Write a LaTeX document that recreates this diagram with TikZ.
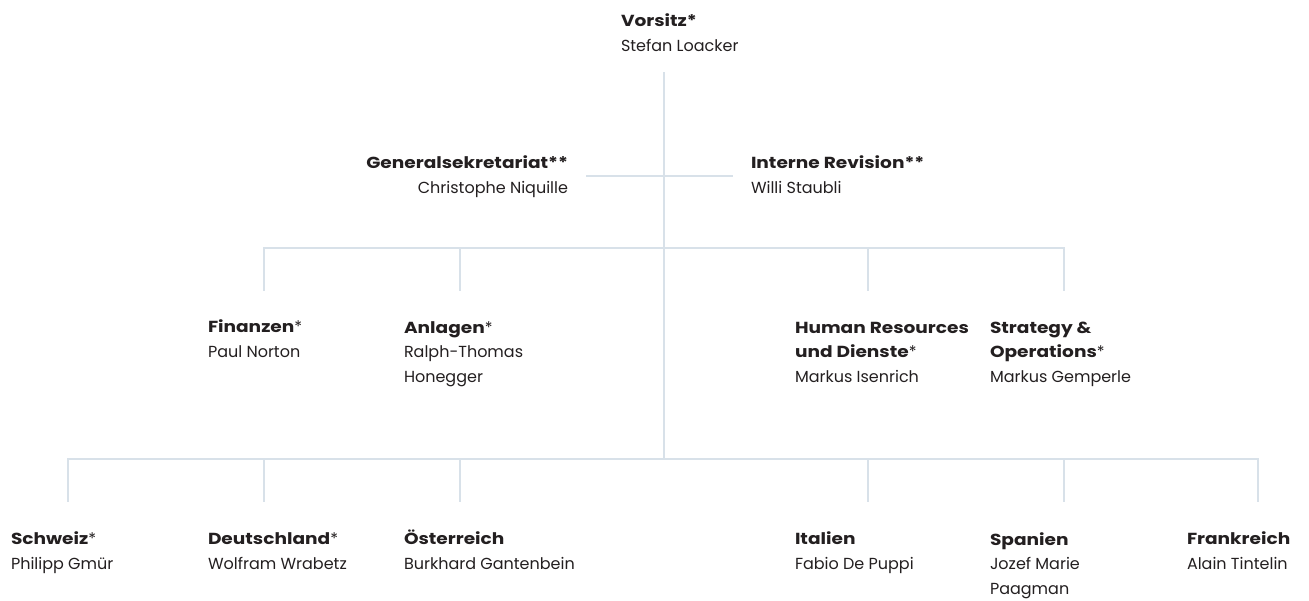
\documentclass[tikz,border=0pt]{standalone}
\usepackage{fontspec}
\setmainfont{Poppins}[BoldFeatures={FakeStretch=1.16}]
\usepackage{tikz}
\definecolor{ink}{RGB}{35,31,32}
\definecolor{linegrey}{RGB}{216,225,233}

\begin{document}
\begin{tikzpicture}[x=1pt,y=-1pt,
    every node/.style={inner sep=0pt,outer sep=0pt,text=ink,
      font=\fontsize{16}{24.5}\selectfont},
    unit/.style={anchor=base west,align=left},
    unitr/.style={anchor=base east,align=right},
    link/.style={draw=linegrey,line width=2pt}]
  \useasboundingbox (0,0) rectangle (1309,600);

  % top and staff units (placed at the baseline of the last line)
  \node[unit]  (vorsitz) at (621,51)  {\textbf{Vorsitz*}\\Stefan Loacker};
  \node[unitr] (gensek)  at (568,193) {\textbf{Generalsekretariat**}\\Christophe Niquille};
  \node[unit]  (revision) at (751,193) {\textbf{Interne Revision**}\\Willi Staubli};

  % departments
  \node[unit] (finanzen) at (208,357) {\textbf{Finanzen}*\\Paul Norton};
  \node[unit] (anlagen)  at (404,382) {\textbf{Anlagen}*\\Ralph-Thomas\\Honegger};
  \node[unit] (hr)       at (795,382) {\textbf{Human Resources}\\\textbf{und Dienste}*\\Markus Isenrich};
  \node[unit] (strategy) at (990,382) {\textbf{Strategy \&}\\\textbf{Operations}*\\Markus Gemperle};

  % countries
  \node[unit] (schweiz)     at (11,569)   {\textbf{Schweiz}*\\Philipp Gmür};
  \node[unit] (deutschland) at (208,569)  {\textbf{Deutschland}*\\Wolfram Wrabetz};
  \node[unit] (oesterreich) at (404,569)  {\textbf{Österreich}\\Burkhard Gantenbein};
  \node[unit] (italien)     at (795,569)  {\textbf{Italien}\\Fabio De Puppi};
  \node[unit] (spanien)     at (990,594)  {\textbf{Spanien}\\Jozef Marie\\Paagman};
  \node[unit] (frankreich)  at (1187,569) {\textbf{Frankreich}\\Alain Tintelin};

  \coordinate (top) at (664,72);
  \coordinate (l1) at (664,176);
  \coordinate (l2) at (664,248);
  \coordinate (l3) at (664,459);
  \coordinate (gs) at (586,176);
  \coordinate (ir) at (733,176);

  \draw[link] (top) -- (l3);
  \draw[link] (gs) -- (ir);
  \foreach \x/\n in {264/finanzen,460/anlagen,868/hr,1064/strategy}{
    \coordinate (d-\n) at (\x,291);
    \draw[link] (l2) -| (d-\n);
  }
  \foreach \x/\n in {68/schweiz,264/deutschland,460/oesterreich,868/italien,1064/spanien,1258/frankreich}{
    \coordinate (d-\n) at (\x,502);
    \draw[link] (l3) -| (d-\n);
  }
\end{tikzpicture}
\end{document}
